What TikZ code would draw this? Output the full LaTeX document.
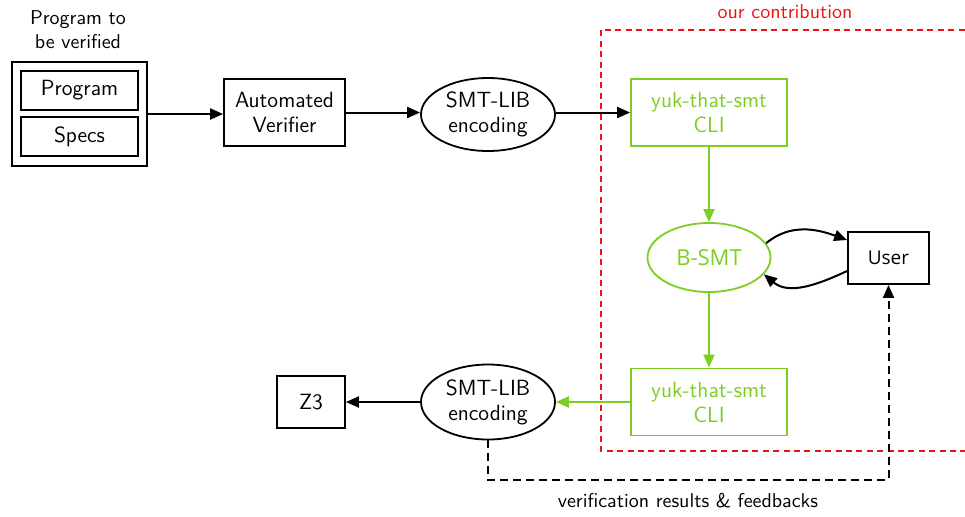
\documentclass[tikz,border=0pt]{standalone}
\usepackage{fontspec}
\newfontfamily\osfont{Open Sans}
\usetikzlibrary{arrows.meta,shapes.geometric}
\definecolor{cligreen}{RGB}{125,206,35}
\definecolor{contribred}{RGB}{235,20,20}
\begin{document}
\begin{tikzpicture}[x=0.5pt,y=-0.5pt, line width=1pt,
  every node/.style={font=\sffamily\fontsize{11}{12.5}\selectfont, align=center, inner sep=0pt, line width=0.9pt},
  blk/.style={draw, rectangle},
  ell/.style={draw, ellipse},
  grn/.style={draw=cligreen, text=cligreen},
  arr/.style={line width=1pt, -{Triangle[length=6.5pt,width=5.5pt]}},
  garr/.style={arr, draw=cligreen, -{Triangle[length=6.5pt,width=5.5pt,fill=cligreen]}},
  lbl/.style={font=\sffamily\fontsize{10}{12}\selectfont}
]
\useasboundingbox (0,0) rectangle (965,516);
% red contribution area
\draw[contribred, line width=1pt, dash pattern=on 3pt off 2.2pt] (975,30) -- (601,30) -- (601,451) -- (975,451);
\node[lbl, text=contribred] (contrib) at (785,12) {our contribution};

% program block
\node[lbl] (title) at (78,30) {Program to\\be verified};
\node[blk, minimum width=135*0.5pt, minimum height=104*0.5pt] (outer) at (79.5,114) {};
\node[blk, minimum width=117*0.5pt, minimum height=39*0.5pt] (prog) at (79.5,90.5) {Program};
\node[blk, minimum width=117*0.5pt, minimum height=39*0.5pt] (specs) at (79.5,136.5) {Specs};

\node[blk, minimum width=121*0.5pt, minimum height=67*0.5pt] (verif) at (284.5,112.5) {Automated\\Verifier};
\node[ell, minimum width=134*0.5pt, minimum height=73*0.5pt] (enc1) at (488,114.5) {SMT-LIB\\encoding};
\node[blk, grn, minimum width=156*0.5pt, minimum height=67*0.5pt] (cli1) at (709,112.5) {yuk-that-smt\\CLI};
\node[ell, grn, minimum width=123*0.5pt, minimum height=69*0.5pt, font=\osfont\fontsize{11}{12}\selectfont] (bsmt) at (709,257.5) {B-SMT};
\node[blk, minimum width=81*0.5pt, minimum height=52*0.5pt, font=\osfont\fontsize{9.5}{11}\selectfont] (user) at (888.5,258) {User};
\node[blk, grn, minimum width=156*0.5pt, minimum height=67*0.5pt] (cli2) at (709,402) {yuk-that-smt\\CLI};
\node[ell, minimum width=134*0.5pt, minimum height=75*0.5pt] (enc2) at (488,402) {SMT-LIB\\encoding};
\node[blk, minimum width=68*0.5pt, minimum height=52*0.5pt] (z3) at (311,402) {Z3};
\node[lbl] (fb) at (688,501) {verification results \& feedbacks};

% connectors
\draw[arr] (outer.east) -- (verif.west |- outer.east);
\draw[arr] (verif.east) -- (enc1.west |- verif.east);
\draw[arr] (enc1.east |- cli1.west) -- (cli1.west);
\draw[garr] (cli1.south) -- (bsmt.north);
\draw[garr] (bsmt.south) -- (cli2.north);
\draw[garr] (cli2.west) -- (enc2.east);
\draw[arr] (enc2.west) -- (z3.east);
\draw[arr] (bsmt.14) to[out=40,in=160] (user.west |- 0,240);
\draw[arr] (user.west |- 0,271) to[out=205,in=-40] (bsmt.-17);
\coordinate (c1) at (488,480);
\coordinate (c2) at (888.5,480);
\draw[arr, dash pattern=on 4pt off 2.5pt] (enc2.south) -- (c1) -- (c2) -- (user.south);
\end{tikzpicture}
\end{document}
